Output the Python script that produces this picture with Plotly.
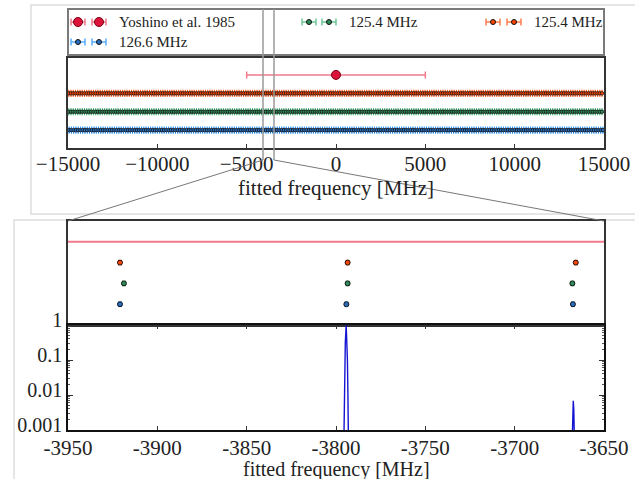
import numpy as np
import plotly.graph_objects as go

# ---------------- data ----------------
ref_label = "Yoshino et al. 1985"
ref_freq = [0.0]
ref_err = [5000.0]

comb_labels = ["126.6 MHz", "125.4 MHz", "125.4 MHz"]          # blue, green, orange
comb_rep = [126.6, 125.4, 125.4]                                # comb spacing [MHz]
comb_anchor = [-3794.2, -3793.5, -3793.5]                       # one measured tooth [MHz]
comb_row = [1, 2, 3]

# fitted teeth read in the zoomed window
zoom_blue = [-3920.9, -3794.2, -3667.4]
zoom_green = [-3918.7, -3793.5, -3667.7]
zoom_orange = [-3920.9, -3793.5, -3665.8]

# normalised spectrum (log scale) in the zoomed window
spec_x = [-3950.0, -3795.69, -3795.5, -3795.28, -3794.99, -3794.8, -3794.3,
          -3793.8, -3793.61, -3793.32, -3793.1, -3792.91,
          -3667.9, -3667.75, -3667.5, -3667.2, -3666.9, -3666.65, -3666.5, -3650.0]
spec_y = [1e-6, 1e-4, 1e-3, 1e-2, 0.1, 0.3, 1.0,
          0.3, 0.1, 1e-2, 1e-3, 1e-4,
          3e-4, 1e-3, 3.8e-3, 6.8e-3, 3.8e-3, 1e-3, 3e-4, 1e-6]

# ---------------- style ----------------
W, H = 635, 479
FONT = "Liberation Serif, Times New Roman, Times, serif"
colors_fill = ["#2a6fbf", "#2e8b57", "#ff4500"]
colors_err = ["rgba(30,144,255,0.75)", "rgba(60,179,113,0.75)", "rgba(255,80,20,0.75)"]
REF_FILL, REF_EDGE, REF_ERR = "#dc143c", "#7a0010", "#f07a8c"
AX = "#333333"


def px(x):
    return x / W


def py(y):
    return 1 - y / H


XDOM = [px(68), px(604)]

fig = go.Figure()

# ---- top overview panel ----
fig.add_trace(go.Scatter(x=ref_freq, y=[4], mode="markers", xaxis="x", yaxis="y",
                         marker=dict(size=9, color=REF_FILL, line=dict(color=REF_EDGE, width=1)),
                         error_x=dict(type="data", array=ref_err, color=REF_ERR, thickness=1.5, width=3.5),
                         showlegend=False))
for i in range(3):
    n0 = int(np.ceil((-15000 - comb_anchor[i]) / comb_rep[i]))
    n1 = int(np.floor((15000 - comb_anchor[i]) / comb_rep[i]))
    teeth = [comb_anchor[i] + n * comb_rep[i] for n in range(n0, n1 + 1)]
    fig.add_trace(go.Scatter(x=teeth, y=[comb_row[i]] * len(teeth), mode="markers",
                             xaxis="x", yaxis="y",
                             marker=dict(size=3.5, color=colors_fill[i], line=dict(color="#111", width=0.8)),
                             error_x=dict(type="constant", value=1.0, color=colors_err[i], thickness=1, width=3.5),
                             showlegend=False))

# ---- zoomed points panel ----
fig.add_trace(go.Scatter(x=ref_freq, y=[4], mode="markers", xaxis="x2", yaxis="y2",
                         marker=dict(size=9, color=REF_FILL, line=dict(color=REF_EDGE, width=1)),
                         error_x=dict(type="data", array=ref_err, color=REF_ERR, thickness=2, width=3.5),
                         showlegend=False))
for i, xs in enumerate([zoom_blue, zoom_green, zoom_orange]):
    fig.add_trace(go.Scatter(x=xs, y=[comb_row[i]] * len(xs), mode="markers", xaxis="x2", yaxis="y2",
                             marker=dict(size=5, color=colors_fill[i], line=dict(color="#111", width=1)),
                             error_x=dict(type="constant", value=0.8, color=colors_err[i], thickness=1, width=3),
                             showlegend=False))

# ---- spectrum panel ----
fig.add_trace(go.Scatter(x=spec_x, y=spec_y, mode="lines", xaxis="x3", yaxis="y3",
                         line=dict(color="#1414d2", width=1.4), showlegend=False))

# ---- custom legend (pixel-coordinate helper axis) ----
leg_entries = [
    (ref_label, [78, 99], 22, REF_FILL, REF_EDGE, REF_ERR, 9, 117),
    (comb_labels[0], [78, 99], 42, colors_fill[0], "#111", colors_err[0], 5, 117),
    (comb_labels[1], [309, 329], 22, colors_fill[1], "#111", colors_err[1], 5, 347),
    (comb_labels[2], [493, 514], 22, colors_fill[2], "#111", colors_err[2], 5, 532),
]
annotations = []
for lab, xs, yy, fc, ec, erc, ms, tx in leg_entries:
    fig.add_trace(go.Scatter(x=xs, y=[yy, yy], mode="markers", xaxis="x4", yaxis="y4",
                             marker=dict(size=ms, color=fc, line=dict(color=ec, width=1)),
                             error_x=dict(type="constant", value=7, color=erc, thickness=1.5, width=3.5),
                             showlegend=False, hoverinfo="skip"))
    annotations.append(dict(x=tx, y=yy, xref="x4", yref="y4", text=lab, showarrow=False,
                            xanchor="left", yanchor="middle", font=dict(family=FONT, size=15, color="#222")))

# bottom axis title as free text, placed below the tick labels
annotations.append(dict(x=px(336), y=py(469), xref="paper", yref="paper", text="fitted frequency [MHz]",
                        showarrow=False, xanchor="center", yanchor="middle",
                        font=dict(family=FONT, size=20, color="#222")))

tickfont = dict(family=FONT, size=21, color="#222")
ytickfont = dict(family=FONT, size=20, color="#222")
common_x = dict(showgrid=False, zeroline=False, showline=True, linecolor=AX, linewidth=1.5, mirror=True,
                automargin=False)

fig.update_layout(
    width=W, height=H, margin=dict(l=0, r=0, t=0, b=0, autoexpand=False),
    paper_bgcolor="white", plot_bgcolor="white",
    font=dict(family=FONT, color="#222"),
    xaxis=dict(domain=XDOM, anchor="y", range=[-15000, 15000], tickmode="linear", tick0=0, dtick=5000,
               tickformat="d", exponentformat="none",
               ticks="inside", ticklen=4, tickcolor=AX, tickfont=tickfont,
               title=dict(text="fitted frequency [MHz]", font=tickfont, standoff=1), **common_x),
    yaxis=dict(domain=[py(148), py(58)], anchor="x", range=[0.03, 4.92], showticklabels=False,
               ticks="", **common_x),
    xaxis2=dict(domain=XDOM, anchor="y2", range=[-3950, -3650], showticklabels=False, ticks="", **common_x),
    yaxis2=dict(domain=[py(325), py(221)], anchor="x2", range=[0.0, 5.0], showticklabels=False,
                ticks="", **common_x),
    xaxis3=dict(domain=XDOM, anchor="y3", range=[-3950, -3650],
                tickvals=[-3950, -3900, -3850, -3800, -3750, -3700, -3650],
                ticktext=["-3950", "-3900", "-3850", "-3800", "-3750", "-3700", "-3650"],
                ticks="inside", ticklen=4, tickcolor=AX, tickfont=tickfont,
                showgrid=False, zeroline=False, showline=True, linecolor="#111", linewidth=1.5, mirror="ticks",
                automargin=False),
    yaxis3=dict(domain=[py(430), py(325)], anchor="x3", type="log", range=[-3, 0],
                tickvals=[0.001, 0.01, 0.1, 1], ticktext=["0.001", "0.01", "0.1", "1"],
                ticks="inside", ticklen=5, tickcolor=AX, tickfont=ytickfont, ticklabelstandoff=0,
                minor=dict(tickvals=[k * 10.0 ** e for e in (-3, -2, -1) for k in range(2, 10)],
                           ticks="inside", ticklen=2.5, tickcolor="#555"),
                showgrid=False, zeroline=False, showline=True, linecolor="#111", linewidth=1.5, mirror="ticks",
                automargin=False),
    xaxis4=dict(domain=XDOM, anchor="y4", range=[68, 604], visible=False, fixedrange=True, automargin=False),
    yaxis4=dict(domain=[py(55), py(9)], anchor="x4", range=[55, 9], visible=False, fixedrange=True,
                automargin=False),
    annotations=annotations,
)

# pull x tick labels slightly closer to the axes, and lift the log-axis labels a little
for ax, val in (("xaxis", -4), ("xaxis3", -2)):
    try:
        fig.layout[ax].ticklabelstandoff = val
    except Exception:
        pass
try:
    fig.layout.yaxis3.ticklabelshift = -5
except Exception:
    pass

shapes = [
    # outer light frames
    dict(type="rect", xref="paper", yref="paper", x0=px(31), x1=px(645), y0=py(214), y1=py(5),
         line=dict(color="#dddddd", width=1.5), layer="below"),
    dict(type="rect", xref="paper", yref="paper", x0=px(14), x1=px(645), y0=py(495), y1=py(220),
         line=dict(color="#dddddd", width=1.5), layer="below"),
    # legend frame
    dict(type="rect", xref="paper", yref="paper", x0=px(68), x1=px(604), y0=py(55), y1=py(9),
         line=dict(color="#7a7a7a", width=2)),
    # zoom window markers
    dict(type="line", xref="paper", yref="paper", x0=px(263), x1=px(263), y0=py(160), y1=py(9),
         line=dict(color="#9a9a9a", width=1.5)),
    dict(type="line", xref="paper", yref="paper", x0=px(274), x1=px(274), y0=py(160), y1=py(9),
         line=dict(color="#9a9a9a", width=1.5)),
    dict(type="line", xref="paper", yref="paper", x0=px(263), x1=px(68), y0=py(160), y1=py(221),
         line=dict(color="#777777", width=1)),
    dict(type="line", xref="paper", yref="paper", x0=px(274), x1=px(604), y0=py(160), y1=py(221),
         line=dict(color="#777777", width=1)),
]
fig.update_layout(shapes=shapes)

fig.write_html("out.html")
